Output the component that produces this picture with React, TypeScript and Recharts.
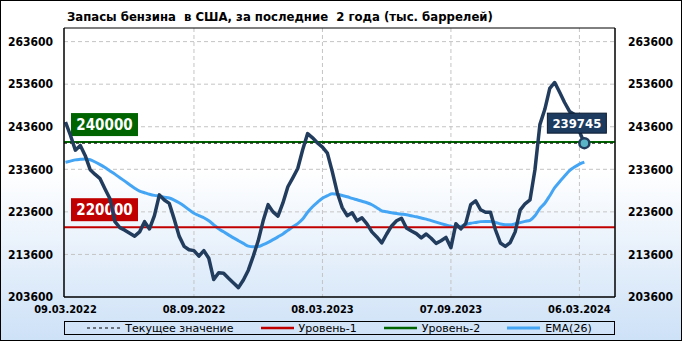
import {
  CartesianGrid,
  Line,
  LineChart,
  ReferenceArea,
  ReferenceDot,
  ReferenceLine,
  XAxis,
  YAxis,
} from 'recharts';

// weekly gasoline stocks, thousand barrels
const stocks = [
  244700, 241600, 238100, 239200, 236800, 233500, 232400, 231400, 229000, 226700,
  221300, 219900, 219300, 218600, 217900, 218900, 221300, 219600, 222700, 227600,
  226400, 225600, 221900, 217900, 215500, 214700, 214500, 213200, 214500, 212700,
  207700, 209300, 209200, 208000, 206900, 205800, 207600, 209900, 213200, 216800,
  221500, 225300, 223600, 222600, 225700, 229500, 231600, 233800, 238200, 242000,
  241000, 239800, 238800, 237400, 233000, 228100, 224600, 222700, 223400, 221500,
  222200, 220800, 218900, 217700, 216300, 218400, 220300, 221500, 222100, 219800,
  219100, 218500, 217500, 218400, 217400, 216200, 216800, 217600, 215200, 220800,
  219600, 220900, 225300, 226200, 224100, 223500, 223500, 219400, 216300, 215500,
  216400, 218900, 224000, 225500, 226400, 233500, 244100, 247700, 252600, 254000,
  251700, 249300, 247200, 246500, 242500, 239745,
];

// EMA(26) as drawn
const ema26 = [
  235250, 235530, 235820, 235940, 236030, 235840, 235320, 234710, 234000, 233220,
  232470, 231640, 230820, 229990, 229170, 228460, 228100, 227750, 227470, 227280,
  227040, 226850, 226380, 225750, 224990, 224100, 223270, 222730, 222210, 221500,
  220560, 219610, 218910, 218200, 217490, 216830, 216190, 215560, 215420, 215440,
  215890, 216430, 217070, 217730, 218430, 219260, 220090, 220840, 221900, 223510,
  224800, 225860, 226810, 227400, 227870, 227750, 227440, 227160, 226760, 226450,
  226100, 225750, 225270, 224570, 223860, 223620, 223390, 223200, 223060, 222920,
  222680, 222440, 222160, 221900, 221550, 221190, 220840, 220510, 220200, 220040,
  220200, 220600, 220910, 221120, 221310, 221360, 221340, 221120, 220750, 220560,
  220560, 220790, 221080, 221360, 221620, 222680, 224400, 225630, 227400, 229280,
  230700, 232000, 233290, 234120, 234830, 235300,
];

const xTicks = [0, 26, 52, 78, 104];
const xLabels = ['09.03.2022', '08.09.2022', '08.03.2023', '07.09.2023', '06.03.2024'];
const yTicks = [203600, 213600, 223600, 233600, 243600, 253600, 263600];
const level1 = 220000;
const level2 = 240000;

const data = stocks.map((v, i) => ({ i, v, ema: ema26[i] }));
const last = data[data.length - 1];

const FONT = "'DejaVu Sans Condensed', 'DejaVu Sans', sans-serif";
const DOMAIN_X: [number, number] = [-0.3, 111.2];
const DOMAIN_Y: [number, number] = [203600, 266800];

const NAVY = '#223c5e';
const EMA = '#45a5f5';
const GREEN = '#006400';
const RED = '#c00000';

const tickStyle = { fontFamily: FONT, fontStretch: 'condensed', fontWeight: 700, fill: '#000' };

function LevelLabel({ viewBox, text, fill }: any) {
  if (!viewBox) return null;
  const x = viewBox.x + 7;
  const y = viewBox.y - 29;
  return (
    <g>
      <rect x={x} y={y} width={67} height={23} fill={fill} />
      <text
        x={x + 33.5}
        y={y + 17}
        textAnchor="middle"
        fill="#fff"
        fontFamily={FONT}
        fontStretch="condensed"
        fontWeight={700}
        fontSize={15}
      >
        {text}
      </text>
    </g>
  );
}

function LastLabel({ viewBox }: any) {
  if (!viewBox) return null;
  const cx = viewBox.x + viewBox.width / 2;
  const cy = viewBox.y + viewBox.height / 2;
  const x = cx - 37;
  const y = cy - 30;
  return (
    <g>
      <rect x={x} y={y} width={59} height={20} fill="#1d3a5f" stroke="#0a1a30" strokeWidth={1} />
      <text
        x={x + 29.5}
        y={y + 15}
        textAnchor="middle"
        fill="#fff"
        fontFamily={FONT}
        fontStretch="condensed"
        fontWeight={700}
        fontSize={13}
      >
        {String(last.v)}
      </text>
    </g>
  );
}

function LegendItem({ label, color, dashed, width }: any) {
  return (
    <span style={{ display: 'inline-flex', alignItems: 'center', gap: 5 }}>
      <svg width={33} height={6}>
        <line
          x1={0}
          y1={3}
          x2={33}
          y2={3}
          stroke={color}
          strokeWidth={width}
          strokeDasharray={dashed ? '3 3' : undefined}
        />
      </svg>
      <span>{label}</span>
    </span>
  );
}

export default function App() {
  return (
    <div
      style={{
        position: 'absolute',
        left: 0,
        top: 0,
        width: 682,
        height: 341,
        background: 'linear-gradient(to bottom, #ffffff 0%, #ffffff 50%, #cde1f7 100%)',
        boxShadow: 'inset 0 0 0 1px #000',
      }}
    >
      <div
        style={{
          position: 'absolute',
          left: 67,
          top: 9,
          fontFamily: FONT,
          fontStretch: 'condensed',
          fontWeight: 700,
          fontSize: 13,
          lineHeight: '15px',
          whiteSpace: 'pre',
          color: '#000',
        }}
      >
        {'Запасы бензина  в США, за последние  2 года (тыс. баррелей)'}
      </div>
      <div style={{ position: 'absolute', left: 0, top: 0 }}>
        <LineChart
          width={682}
          height={341}
          data={data}
          margin={{ top: 28, right: 0, bottom: 14, left: 0 }}
        >
          <CartesianGrid
            yAxisId="left"
            stroke="#c4c4c4"
            strokeDasharray="4 3"
            horizontalValues={yTicks.slice(1)}
            verticalValues={xTicks.slice(1)}
          />
          <XAxis
            dataKey="i"
            type="number"
            domain={DOMAIN_X}
            ticks={xTicks}
            tickFormatter={(v: number) => xLabels[xTicks.indexOf(v)] ?? ''}
            tickLine={false}
            axisLine={{ stroke: '#000' }}
            tick={{ ...tickStyle, fontSize: 11 }}
            height={30}
            allowDataOverflow
          />
          <YAxis
            yAxisId="left"
            domain={DOMAIN_Y}
            ticks={yTicks}
            tickLine={false}
            axisLine={{ stroke: '#000' }}
            tick={{ ...tickStyle, fontSize: 12 }}
            tickMargin={5}
            width={64}
            allowDataOverflow
          />
          <YAxis
            yAxisId="right"
            orientation="right"
            domain={DOMAIN_Y}
            ticks={yTicks}
            tickLine={false}
            axisLine={{ stroke: '#000' }}
            tick={{ ...tickStyle, fontSize: 12 }}
            tickMargin={7}
            width={67}
            allowDataOverflow
          />
          <ReferenceArea
            yAxisId="left"
            x1={DOMAIN_X[0]}
            x2={DOMAIN_X[1]}
            y1={DOMAIN_Y[0]}
            y2={DOMAIN_Y[1]}
            fill="none"
            stroke="#000"
            strokeWidth={1}
          />
          <Line
            yAxisId="left"
            dataKey="ema"
            type="monotone"
            stroke={EMA}
            strokeWidth={3}
            dot={false}
            isAnimationActive={false}
          />
          <ReferenceLine
            yAxisId="left"
            y={level1}
            stroke={RED}
            strokeWidth={2}
            label={<LevelLabel text={String(level1)} fill={RED} />}
          />
          <ReferenceLine
            yAxisId="left"
            y={level2}
            stroke={GREEN}
            strokeWidth={2}
            label={<LevelLabel text={String(level2)} fill={GREEN} />}
          />
          <ReferenceLine
            yAxisId="left"
            y={last.v}
            stroke="#000"
            strokeWidth={1}
            strokeDasharray="3 3"
          />
          <Line
            yAxisId="left"
            dataKey="v"
            type="linear"
            stroke={NAVY}
            strokeWidth={3.5}
            strokeLinejoin="round"
            dot={false}
            isAnimationActive={false}
          />
          <ReferenceDot
            yAxisId="left"
            x={last.i}
            y={last.v}
            r={5}
            fill="#5ab4c8"
            stroke={NAVY}
            strokeWidth={2.5}
            label={<LastLabel />}
          />
        </LineChart>
      </div>
      <div
        style={{
          position: 'absolute',
          left: 64,
          top: 321,
          width: 551,
          height: 14,
          boxSizing: 'border-box',
          border: '1px solid #000',
          display: 'flex',
          justifyContent: 'center',
          alignItems: 'center',
          gap: 27,
          fontFamily: "'DejaVu Sans', sans-serif",
          fontSize: 11,
          color: '#000',
        }}
      >
        <LegendItem label="Текущее значение" color="#000" dashed width={1} />
        <LegendItem label="Уровень-1" color={RED} width={2.5} />
        <LegendItem label="Уровень-2" color={GREEN} width={2.5} />
        <LegendItem label="EMA(26)" color={EMA} width={3} />
      </div>
    </div>
  );
}
